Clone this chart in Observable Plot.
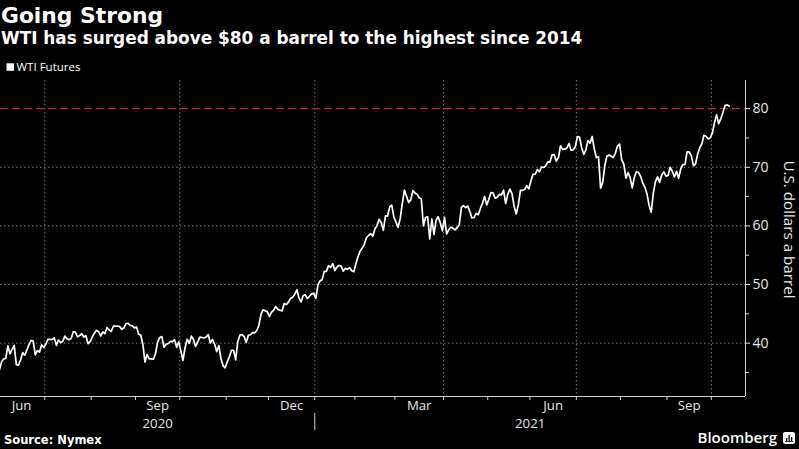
<!DOCTYPE html>
<html>
<head>
<meta charset="utf-8">
<script src="https://cdn.jsdelivr.net/npm/d3@7"></script>
<script src="https://cdn.jsdelivr.net/npm/@observablehq/plot@0.6"></script>
<style>
  html, body { margin: 0; padding: 0; background: #000; }
  #wrap { position: relative; width: 799px; height: 449px; background: #000; overflow: hidden; }
  #chart, #overlay { position: absolute; left: 0; top: 0; }
  #overlay { pointer-events: none; }
</style>
</head>
<body>
<div id="wrap">
  <div id="chart"></div>
  <svg id="overlay" width="799" height="449"></svg>
</div>
<script>
// ---- Data (WTI front-month futures, daily closes, trading days) ----
const monthNames = ["Jun","Jul","Aug","Sep","Oct","Nov","Dec","Jan","Feb","Mar","Apr","May","Jun","Jul","Aug","Sep","Oct"];
const monthYears = [2020,2020,2020,2020,2020,2020,2020,2021,2021,2021,2021,2021,2021,2021,2021,2021,2021];
const tradingDays = [22,22,21,21,22,20,22,19,19,23,21,20,22,21,22,21,9];

const prices2020 = [
  // Jun
  35.44,36.81,37.29,37.41,39.55,38.19,38.94,39.60,36.34,36.26,37.12,38.38,37.96,38.84,39.75,40.46,40.37,38.01,38.72,38.49,39.70,39.27,
  // Jul
  39.82,40.65,40.63,40.62,40.90,39.62,40.55,40.10,40.29,41.20,40.75,40.59,40.81,41.96,41.90,41.07,41.29,41.60,41.04,41.27,39.92,40.27,
  // Aug
  41.01,41.70,42.19,41.95,41.22,41.94,41.61,42.67,42.24,42.01,42.89,42.89,42.93,42.82,42.34,42.62,43.35,43.39,43.04,42.97,42.61,
  // Sep
  42.76,41.51,41.37,39.77,36.76,38.05,37.30,37.33,37.26,38.28,40.16,40.97,41.11,39.31,39.80,39.93,40.31,40.25,40.60,39.29,40.22,
  // Oct
  38.72,37.05,39.22,40.67,39.95,41.19,40.60,39.43,40.20,41.04,40.96,40.88,41.06,41.46,40.03,40.64,39.85,38.56,39.57,37.39,36.17,35.79,
  // Nov
  36.81,37.66,38.79,38.79,37.14,40.29,41.36,41.45,41.12,40.13,41.34,41.43,41.82,41.74,42.15,43.06,44.91,45.71,45.53,45.34,
  // Dec
  44.55,45.28,45.64,46.26,45.76,45.60,45.52,46.78,46.57,46.99,47.62,47.82,48.36,49.10,47.74,47.02,48.12,48.23,47.62,48.00,48.40,48.52
];
const prices2021 = [
  // Jan
  47.62,49.93,50.63,50.83,52.24,52.25,53.21,52.91,53.57,52.36,52.98,53.24,53.13,52.27,52.77,52.61,52.85,52.34,52.20,
  // Feb
  53.55,54.76,55.69,56.23,56.85,57.97,58.36,58.68,58.24,59.47,60.05,61.14,60.52,59.24,61.70,61.67,63.22,63.53,61.50,
  // Mar
  60.64,59.75,61.28,63.83,66.09,65.05,64.01,64.44,66.02,65.61,65.39,64.80,64.60,60.00,61.42,61.55,57.76,61.18,58.56,60.97,61.56,60.55,59.16,
  // Apr
  61.45,58.65,59.33,59.77,59.60,59.32,59.70,60.18,63.15,63.46,63.13,63.38,62.44,61.35,61.43,62.14,61.91,62.94,63.86,65.01,63.58,
  // May
  64.49,65.69,65.63,64.71,64.90,65.37,65.28,66.08,63.82,65.37,66.27,65.49,63.36,62.05,63.58,66.05,66.07,66.21,66.85,66.32,
  // Jun
  67.72,68.83,68.81,69.62,69.23,70.05,69.96,70.29,70.91,70.88,72.12,72.15,71.04,71.64,73.66,73.06,73.08,73.30,74.05,72.91,72.98,73.47,
  // Jul
  75.23,75.16,73.37,72.20,72.94,74.56,74.10,75.25,73.13,71.65,71.81,66.42,67.42,70.30,71.91,72.07,71.91,71.65,72.39,73.62,73.95,
  // Aug
  71.26,70.56,68.15,69.09,68.28,66.48,68.29,69.25,69.09,68.44,67.29,66.59,65.46,63.50,62.32,65.64,67.54,68.36,67.42,68.74,69.21,68.50,
  // Sep
  68.59,69.99,69.29,68.35,69.30,68.14,69.72,70.45,70.46,72.61,72.61,71.97,70.29,70.56,72.23,73.30,73.98,75.45,75.29,74.83,75.03,
  // Oct
  75.88,77.62,78.93,77.43,78.30,79.35,80.52,80.64,80.44
];
const yTicks = [40, 50, 60, 70, 80];
const yMinorTicks = [35, 45, 55, 65, 75];
const threshold = 80;
const yearLabels = ["2020", "2021"];

// ---- Derived tables ----
const prices = prices2020.concat(prices2021);
const data = prices.map((v, i) => ({i, v}));
const xDomain = [0.5, 353.7];
const yDomain = [30.9, 84.8];

let acc = 0;
const months = monthNames.map((name, k) => {
  const start = acc; acc += tradingDays[k];
  return {name, year: monthYears[k], tick: start - 0.5, center: start + tradingDays[k] / 2 - 0.5};
});
const monthTicks = months.filter(m => m.tick > xDomain[0]).map(m => m.tick);
const gridTicks = months.filter(m => ["Jan","Apr","Jul","Oct"].includes(m.name) && m.tick > xDomain[0]).map(m => m.tick);
const labelMonths = months.filter(m => ["Mar","Jun","Sep","Dec"].includes(m.name));
const yearBoundary = months.find(m => m.year === 2021).tick;
const years = [
  {label: yearLabels[0], x: (xDomain[0] + yearBoundary) / 2},
  {label: yearLabels[1], x: (yearBoundary + xDomain[1]) / 2}
];

const plotH = 449 - 80 - 53;
const chart = Plot.plot({
  width: 799,
  height: 449,
  marginTop: 80,
  marginBottom: 53,
  marginLeft: 0,
  marginRight: 54,
  style: {background: "#000", color: "#fff", fontFamily: "'Open Sans', sans-serif", fontSize: "14px", overflow: "visible"},
  x: {type: "linear", domain: xDomain, axis: null},
  y: {type: "linear", domain: yDomain, axis: null},
  marks: [
    Plot.gridY(yTicks.filter(t => t !== threshold), {stroke: "#7a7a7a", strokeOpacity: 1, strokeDasharray: "1.5,2.5"}),
    Plot.gridX(gridTicks, {stroke: "#7a7a7a", strokeOpacity: 1, strokeDasharray: "1.5,2.5"}),
    Plot.ruleY([threshold], {stroke: "#d4202e", strokeWidth: 1.2, strokeDasharray: "8,4"}),
    Plot.ruleY([yDomain[0]], {stroke: "#cfcfcf", strokeWidth: 1}),
    Plot.ruleX([xDomain[1]], {stroke: "#cfcfcf", strokeWidth: 1}),
    Plot.line(data, {x: "i", y: "v", stroke: "#fff", strokeWidth: 1.7, strokeLinejoin: "round"}),
    Plot.axisY(yTicks, {anchor: "right", tickSize: 4, tickPadding: 3, fontSize: 14, color: "#e6e6e6", label: null}),
    Plot.axisY(yMinorTicks, {anchor: "right", tickSize: 3, tickFormat: () => "", color: "#cfcfcf", label: null}),
    Plot.axisX(monthTicks, {anchor: "bottom", tickSize: 4, tickFormat: () => "", color: "#cfcfcf", label: null}),
    Plot.text(labelMonths, {x: "center", text: "name", frameAnchor: "bottom", lineAnchor: "top", dy: 4.1, fontSize: 13.2, fill: "#e6e6e6"}),
    Plot.text(years, {x: "x", text: "label", frameAnchor: "bottom", lineAnchor: "top", dy: 22.1, fontSize: 13.2, fill: "#e6e6e6"}),
    Plot.ruleX([yearBoundary], {stroke: "#cfcfcf", strokeWidth: 1, insetTop: plotH + 17, insetBottom: -34}),
    Plot.text(["U.S. dollars a barrel"], {frameAnchor: "right", textAnchor: "middle", rotate: 90, dx: 43, dy: -9, fontSize: 15.2, fill: "#e6e6e6"})
  ]
});
document.getElementById("chart").appendChild(chart);

// ---- Header / footer text ----
const ov = d3.select("#overlay");
ov.append("text").attr("x", 1).attr("y", 23).attr("fill", "#fff")
  .attr("font-family", "'DejaVu Sans', sans-serif").attr("font-weight", "bold").attr("font-size", 21.8)
  .text("Going Strong");
ov.append("text").attr("x", 1).attr("y", 44).attr("fill", "#fff")
  .attr("font-family", "'DejaVu Sans', sans-serif").attr("font-weight", "bold").attr("font-size", 16.9)
  .text("WTI has surged above $80 a barrel to the highest since 2014");
ov.append("rect").attr("x", 6.5).attr("y", 63.3).attr("width", 7.5).attr("height", 7.5).attr("fill", "#fff");
ov.append("text").attr("x", 16.5).attr("y", 71).attr("fill", "#fff")
  .attr("font-family", "'Open Sans', sans-serif").attr("font-size", 11.5)
  .text("WTI Futures");
ov.append("text").attr("x", 4).attr("y", 444).attr("fill", "#fff")
  .attr("font-family", "'DejaVu Sans', sans-serif").attr("font-weight", "bold").attr("font-size", 11.5)
  .text("Source: Nymex");
ov.append("text").attr("x", 777).attr("y", 443).attr("fill", "#fff").attr("text-anchor", "end")
  .attr("font-family", "'Open Sans', sans-serif").attr("font-weight", 600).attr("font-size", 15)
  .text("Bloomberg");
const logo = ov.append("g").attr("transform", "translate(783,432)");
logo.append("rect").attr("width", 12).attr("height", 12).attr("rx", 2).attr("fill", "#fff");
[[3, 6, 1.3], [5.5, 3, 1.3], [8, 5, 1.3]].forEach(([x, y, w]) =>
  logo.append("rect").attr("x", x).attr("y", y).attr("width", w).attr("height", 9 - y).attr("fill", "#000"));
logo.append("rect").attr("x", 2).attr("y", 9).attr("width", 8).attr("height", 0.8).attr("fill", "#000");
</script>
</body>
</html>
